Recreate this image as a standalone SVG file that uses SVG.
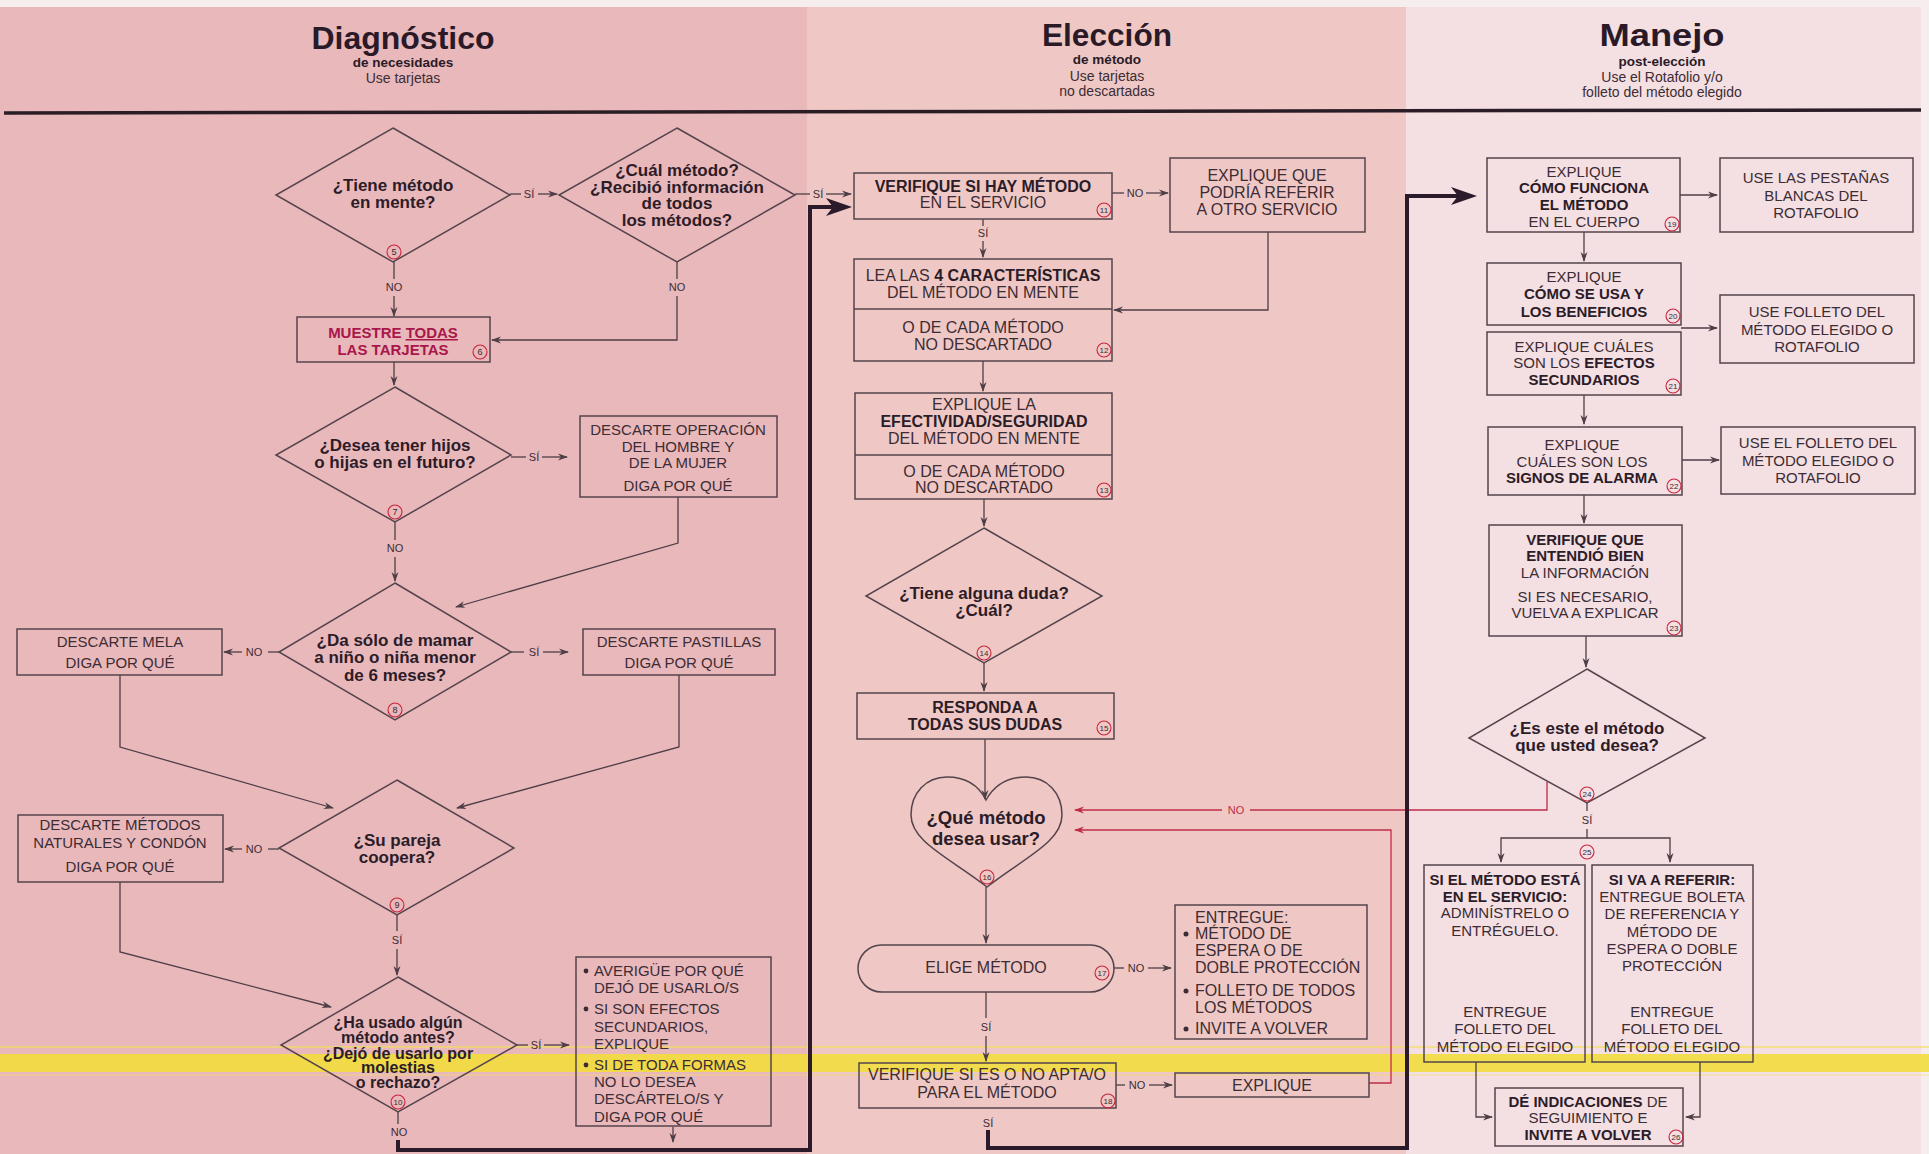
<svg xmlns="http://www.w3.org/2000/svg" width="1929" height="1154" viewBox="0 0 1929 1154">
<style>
  text { font-family: "Liberation Sans", Arial, sans-serif; fill: #3c2c34; }
  .ttl { font-size: 31px; font-weight: bold; fill: #2a1a27; text-anchor: middle; }
  .sub { font-size: 14px; text-anchor: middle; }
  .subb { font-size: 14px; font-weight: bold; fill: #2a1a27; text-anchor: middle; }
  .q { font-size: 17px; font-weight: bold; fill: #2c1c28; text-anchor: middle; }
  .q16 { font-size: 16px; font-weight: bold; fill: #2c1c28; text-anchor: middle; }
  .c15 { font-size: 15px; text-anchor: middle; }
  .c16 { font-size: 16px; text-anchor: middle; }
  .l16 { font-size: 16px; }
  .l15 { font-size: 15px; }
  .bd { font-weight: bold; fill: #2c1c28; }
  .red { font-size: 15px; font-weight: bold; fill: #a8164a; text-anchor: middle; }
  .lbl { font-size: 11px; text-anchor: middle; }
  .box { fill: none; stroke: #54444c; stroke-width: 1.5; }
  .ln { fill: none; stroke: #4e3e46; stroke-width: 1.3; }
  .rl { fill: none; stroke: #c02c48; stroke-width: 1.3; }
  .thick { fill: none; stroke: #2a1a2a; stroke-width: 4; }
  .num circle { fill: none; stroke: #c8243c; stroke-width: 1.1; }
  .num text { font-size: 9px; text-anchor: middle; fill: #3a2a30; }
  .dot { fill: #3c2c34; }
</style>
<defs>
  <marker id="ar" viewBox="0 0 10 8" refX="9" refY="4" markerWidth="10" markerHeight="8" markerUnits="userSpaceOnUse" orient="auto">
    <path d="M0,0.5 L10,4 L0,7.5 L3,4 Z" fill="#4e3e46"/>
  </marker>
  <marker id="arr" viewBox="0 0 10 8" refX="9" refY="4" markerWidth="10" markerHeight="8" markerUnits="userSpaceOnUse" orient="auto">
    <path d="M0,0.5 L10,4 L0,7.5 L3,4 Z" fill="#c02c48"/>
  </marker>
  <marker id="big" viewBox="0 0 26 18" refX="8" refY="9" markerWidth="26" markerHeight="18" markerUnits="userSpaceOnUse" orient="auto">
    <path d="M0,0 L26,9 L0,18 L7,9 Z" fill="#2a1a2a"/>
  </marker>
</defs>

<!-- column backgrounds -->
<g id="background">
  <rect x="0" y="0" width="807" height="1154" fill="#e9b8bb"/>
  <rect x="807" y="0" width="599" height="1154" fill="#efc8c5"/>
  <rect x="1406" y="0" width="523" height="1154" fill="#f4dfe3"/>
  <rect x="0" y="0" width="1929" height="7" fill="#f6eeee"/>
  <rect x="1921" y="0" width="8" height="1154" fill="#f6eeee"/>
  <!-- highlighter stripe -->
  <rect x="0" y="1054" width="1929" height="18" fill="#f2dd3e" opacity="0.9"/>
  <line x1="0" y1="1047" x2="1929" y2="1047" stroke="#f3e05a" stroke-width="1.5" opacity="0.8"/>
  <line x1="0" y1="1075" x2="1929" y2="1075" stroke="#f3e05a" stroke-width="1" opacity="0.6"/>
</g>

<!-- column headings -->
<g id="headers">
  <text class="ttl" x="403" y="49" textLength="183" lengthAdjust="spacingAndGlyphs">Diagnóstico</text>
  <text class="subb" x="403" y="67" style="font-size:13.5px">de necesidades</text>
  <text class="sub" x="403" y="83">Use tarjetas</text>
  <text class="ttl" x="1107" y="46" textLength="130" lengthAdjust="spacingAndGlyphs">Elección</text>
  <text class="subb" x="1107" y="64" style="font-size:13.5px">de método</text>
  <text class="sub" x="1107" y="81">Use tarjetas</text>
  <text class="sub" x="1107" y="96">no descartadas</text>
  <text class="ttl" x="1662" y="46" textLength="125" lengthAdjust="spacingAndGlyphs">Manejo</text>
  <text class="subb" x="1662" y="66" style="font-size:13.5px">post-elección</text>
  <text class="sub" x="1662" y="82">Use el Rotafolio y/o</text>
  <text class="sub" x="1662" y="97">folleto del método elegido</text>
  <line x1="4" y1="113" x2="1921" y2="110" stroke="#2b1d26" stroke-width="3.5"/>
</g>

<!-- connectors -->
<g id="connectors">
  <!-- 5 -> cual -->
  <path class="ln" d="M510,194 H521"/>
  <text class="lbl" x="529" y="198">SÍ</text>
  <path class="ln" d="M538,194 H557" marker-end="url(#ar)"/>
  <!-- 5 NO -> 6 -->
  <path class="ln" d="M394,262 V279"/>
  <text class="lbl" x="394" y="291">NO</text>
  <path class="ln" d="M394,296 V316" marker-end="url(#ar)"/>
  <!-- cual NO -> 6 -->
  <path class="ln" d="M677,262 V279"/>
  <text class="lbl" x="677" y="291">NO</text>
  <path class="ln" d="M677,296 V340 H492" marker-end="url(#ar)"/>
  <!-- cual SI -> 11 -->
  <path class="ln" d="M795,194 H810"/>
  <text class="lbl" x="818" y="198">SÍ</text>
  <path class="ln" d="M826,194 H851" marker-end="url(#ar)"/>
  <!-- 6 -> 7 -->
  <path class="ln" d="M394,362 V385" marker-end="url(#ar)"/>
  <!-- 7 SI -> descarte operacion -->
  <path class="ln" d="M511,457 H526"/>
  <text class="lbl" x="534" y="461">SÍ</text>
  <path class="ln" d="M542,457 H567" marker-end="url(#ar)"/>
  <path class="ln" d="M678,497 V543 L456,607" marker-end="url(#ar)"/>
  <!-- 7 NO -> 8 -->
  <path class="ln" d="M395,522 V540"/>
  <text class="lbl" x="395" y="552">NO</text>
  <path class="ln" d="M395,557 V581" marker-end="url(#ar)"/>
  <!-- 8 NO -> MELA -->
  <path class="ln" d="M279,652 H268"/>
  <text class="lbl" x="254" y="656">NO</text>
  <path class="ln" d="M242,652 H224" marker-end="url(#ar)"/>
  <!-- 8 SI -> pastillas -->
  <path class="ln" d="M511,652 H524"/>
  <text class="lbl" x="534" y="656">SÍ</text>
  <path class="ln" d="M543,652 H568" marker-end="url(#ar)"/>
  <path class="ln" d="M120,675 V747 L333,808" marker-end="url(#ar)"/>
  <path class="ln" d="M679,675 V747 L457,808" marker-end="url(#ar)"/>
  <!-- 9 NO -> naturales -->
  <path class="ln" d="M279,849 H268"/>
  <text class="lbl" x="254" y="853">NO</text>
  <path class="ln" d="M242,849 H225" marker-end="url(#ar)"/>
  <path class="ln" d="M120,882 V952 L331,1007" marker-end="url(#ar)"/>
  <!-- 9 SI -> 10 -->
  <path class="ln" d="M397,915 V931"/>
  <text class="lbl" x="397" y="944">SÍ</text>
  <path class="ln" d="M397,949 V975" marker-end="url(#ar)"/>
  <!-- 10 SI -> averigue -->
  <path class="ln" d="M517,1045 H528"/>
  <text class="lbl" x="536" y="1049">SÍ</text>
  <path class="ln" d="M544,1045 H569" marker-end="url(#ar)"/>
  <path class="ln" d="M673,1127 V1142" marker-end="url(#ar)"/>
  <!-- 10 NO -> 11 (main path) -->
  <path class="ln" d="M398,1112 V1124"/>
  <text class="lbl" x="399" y="1136">NO</text>
  <path class="thick" d="M398,1140 V1150 H810 V207 H834" marker-end="url(#big)"/>

  <!-- Elección -->
  <path class="ln" d="M1112,193 H1124"/>
  <text class="lbl" x="1135" y="197">NO</text>
  <path class="ln" d="M1146,193 H1168" marker-end="url(#ar)"/>
  <path class="ln" d="M1268,232 V310 H1114" marker-end="url(#ar)"/>
  <path class="ln" d="M983,219 V226"/>
  <text class="lbl" x="983" y="237">SÍ</text>
  <path class="ln" d="M983,241 V257" marker-end="url(#ar)"/>
  <path class="ln" d="M983,361 V391" marker-end="url(#ar)"/>
  <path class="ln" d="M984,499 V526" marker-end="url(#ar)"/>
  <path class="ln" d="M984,663 V691" marker-end="url(#ar)"/>
  <path class="ln" d="M985,739 V799" marker-end="url(#ar)"/>
  <path class="ln" d="M986,887 V943" marker-end="url(#ar)"/>
  <path class="ln" d="M1114,968 H1124"/>
  <text class="lbl" x="1136" y="972">NO</text>
  <path class="ln" d="M1148,968 H1171" marker-end="url(#ar)"/>
  <path class="ln" d="M986,992 V1018"/>
  <text class="lbl" x="986" y="1031">SÍ</text>
  <path class="ln" d="M986,1036 V1061" marker-end="url(#ar)"/>
  <path class="ln" d="M1116,1085 H1125"/>
  <text class="lbl" x="1137" y="1089">NO</text>
  <path class="ln" d="M1149,1085 H1172" marker-end="url(#ar)"/>
  <path class="rl" d="M1369,1083 H1391 V830 H1075" marker-end="url(#arr)"/>
  <path class="rl" d="M1547,782 V810 H1250"/>
  <text class="lbl" x="1236" y="814" style="fill:#c02c48">NO</text>
  <path class="rl" d="M1222,810 H1075" marker-end="url(#arr)"/>
  <text class="lbl" x="988" y="1127">SÍ</text>
  <path class="thick" d="M988,1130 V1148 H1407 V196 H1459" marker-end="url(#big)"/>

  <!-- Manejo -->
  <path class="ln" d="M1680,195 H1717" marker-end="url(#ar)"/>
  <path class="ln" d="M1584,232 V261" marker-end="url(#ar)"/>
  <path class="ln" d="M1681,328 H1717" marker-end="url(#ar)"/>
  <path class="ln" d="M1584,395 V424" marker-end="url(#ar)"/>
  <path class="ln" d="M1682,460 H1719" marker-end="url(#ar)"/>
  <path class="ln" d="M1584,495 V523" marker-end="url(#ar)"/>
  <path class="ln" d="M1586,636 V667" marker-end="url(#ar)"/>
  <path class="ln" d="M1587,803 V811"/>
  <text class="lbl" x="1587" y="824">SÍ</text>
  <path class="ln" d="M1587,829 V838"/>
  <path class="ln" d="M1587,838 H1501 V862" marker-end="url(#ar)"/>
  <path class="ln" d="M1587,838 H1670 V862" marker-end="url(#ar)"/>
  <path class="ln" d="M1476,1062 V1117 H1492" marker-end="url(#ar)"/>
  <path class="ln" d="M1700,1062 V1117 H1686" marker-end="url(#ar)"/>
</g>

<!-- Diagnóstico -->
<g id="n5">
  <polygon class="box" points="393,128 510,195 393,262 276,195"/>
  <text class="q" x="393" y="191">¿Tiene método</text>
  <text class="q" x="393" y="208">en mente?</text>
  <g class="num"><circle cx="394" cy="252" r="7"/><text x="394" y="255">5</text></g>
</g>
<g id="n-cual">
  <polygon class="box" points="677,128 795,195 677,262 559,195"/>
  <text class="q" x="677" y="176">¿Cuál método?</text>
  <text class="q" x="677" y="193">¿Recibió información</text>
  <text class="q" x="677" y="209">de todos</text>
  <text class="q" x="677" y="226">los métodos?</text>
</g>
<g id="n6">
  <rect class="box" x="297" y="317" width="193" height="45"/>
  <text class="red" x="393" y="338">MUESTRE <tspan style="text-decoration:underline">TODAS</tspan></text>
  <text class="red" x="393" y="355">LAS TARJETAS</text>
  <g class="num"><circle cx="480" cy="352" r="7"/><text x="480" y="355">6</text></g>
</g>
<g id="n7">
  <polygon class="box" points="395,387 511,455 395,522 276,455"/>
  <text class="q" x="395" y="451">¿Desea tener hijos</text>
  <text class="q" x="395" y="468">o hijas en el futuro?</text>
  <g class="num"><circle cx="395" cy="512" r="7"/><text x="395" y="515">7</text></g>
</g>
<g id="n-operacion">
  <rect class="box" x="580" y="416" width="197" height="81"/>
  <text class="c15" x="678" y="435">DESCARTE OPERACIÓN</text>
  <text class="c15" x="678" y="452">DEL HOMBRE Y</text>
  <text class="c15" x="678" y="468">DE LA MUJER</text>
  <text class="c15" x="678" y="491">DIGA POR QUÉ</text>
</g>
<g id="n8">
  <polygon class="box" points="395,583 511,652 395,720 279,652"/>
  <text class="q" x="395" y="646">¿Da sólo de mamar</text>
  <text class="q" x="395" y="663">a niño o niña menor</text>
  <text class="q" x="395" y="681">de 6 meses?</text>
  <g class="num"><circle cx="395" cy="710" r="7"/><text x="395" y="713">8</text></g>
</g>
<g id="n-mela">
  <rect class="box" x="17" y="629" width="205" height="46"/>
  <text class="c15" x="120" y="647">DESCARTE MELA</text>
  <text class="c15" x="120" y="668">DIGA POR QUÉ</text>
</g>
<g id="n-pastillas">
  <rect class="box" x="583" y="629" width="192" height="46"/>
  <text class="c15" x="679" y="647">DESCARTE PASTILLAS</text>
  <text class="c15" x="679" y="668">DIGA POR QUÉ</text>
</g>
<g id="n9">
  <polygon class="box" points="397,780 514,848 397,915 279,848"/>
  <text class="q" x="397" y="846">¿Su pareja</text>
  <text class="q" x="397" y="863">coopera?</text>
  <g class="num"><circle cx="397" cy="905" r="7"/><text x="397" y="908">9</text></g>
</g>
<g id="n-naturales">
  <rect class="box" x="18" y="815" width="205" height="67"/>
  <text class="c15" x="120" y="830">DESCARTE MÉTODOS</text>
  <text class="c15" x="120" y="848">NATURALES Y CONDÓN</text>
  <text class="c15" x="120" y="872">DIGA POR QUÉ</text>
</g>
<g id="n10">
  <polygon class="box" points="398,977 517,1045 398,1112 281,1045"/>
  <text class="q16" x="398" y="1028">¿Ha usado algún</text>
  <text class="q16" x="398" y="1043">método antes?</text>
  <text class="q16" x="398" y="1059">¿Dejó de usarlo por</text>
  <text class="q16" x="398" y="1073">molestias</text>
  <text class="q16" x="398" y="1088">o rechazo?</text>
  <g class="num"><circle cx="398" cy="1102" r="7"/><text x="398" y="1105" style="font-size:8px">10</text></g>
</g>
<g id="n-averigue">
  <rect class="box" x="576" y="957" width="195" height="169"/>
  <circle class="dot" cx="586" cy="971" r="2.4"/>
  <text class="l15" x="594" y="976">AVERIGÜE POR QUÉ</text>
  <text class="l15" x="594" y="993">DEJÓ DE USARLO/S</text>
  <circle class="dot" cx="586" cy="1009" r="2.4"/>
  <text class="l15" x="594" y="1014">SI SON EFECTOS</text>
  <text class="l15" x="594" y="1032">SECUNDARIOS,</text>
  <text class="l15" x="594" y="1049">EXPLIQUE</text>
  <circle class="dot" cx="586" cy="1065" r="2.4"/>
  <text class="l15" x="594" y="1070">SI DE TODA FORMAS</text>
  <text class="l15" x="594" y="1087">NO LO DESEA</text>
  <text class="l15" x="594" y="1104">DESCÁRTELO/S Y</text>
  <text class="l15" x="594" y="1122">DIGA POR QUÉ</text>
</g>

<!-- Elección -->
<g id="n11">
  <rect class="box" x="854" y="173" width="258" height="46"/>
  <text class="c16" x="983" y="192"><tspan class="bd">VERIFIQUE SI HAY MÉTODO</tspan></text>
  <text class="c16" x="983" y="208">EN EL SERVICIO</text>
  <g class="num"><circle cx="1104" cy="210" r="7"/><text x="1104" y="213" style="font-size:8px">11</text></g>
</g>
<g id="n-referir">
  <rect class="box" x="1170" y="158" width="195" height="74"/>
  <text class="c16" x="1267" y="181">EXPLIQUE QUE</text>
  <text class="c16" x="1267" y="198">PODRÍA REFERIR</text>
  <text class="c16" x="1267" y="215">A OTRO SERVICIO</text>
</g>
<g id="n12">
  <rect class="box" x="854" y="259" width="258" height="102"/>
  <line class="box" x1="854" y1="309" x2="1112" y2="309"/>
  <text class="c16" x="983" y="281">LEA LAS <tspan class="bd">4 CARACTERÍSTICAS</tspan></text>
  <text class="c16" x="983" y="298">DEL MÉTODO EN MENTE</text>
  <text class="c16" x="983" y="333">O DE CADA MÉTODO</text>
  <text class="c16" x="983" y="350">NO DESCARTADO</text>
  <g class="num"><circle cx="1104" cy="350" r="7"/><text x="1104" y="353" style="font-size:8px">12</text></g>
</g>
<g id="n13">
  <rect class="box" x="855" y="393" width="257" height="106"/>
  <line class="box" x1="855" y1="455" x2="1112" y2="455"/>
  <text class="c16" x="984" y="410">EXPLIQUE LA</text>
  <text class="c16" x="984" y="427"><tspan class="bd">EFECTIVIDAD/SEGURIDAD</tspan></text>
  <text class="c16" x="984" y="444">DEL MÉTODO EN MENTE</text>
  <text class="c16" x="984" y="477">O DE CADA MÉTODO</text>
  <text class="c16" x="984" y="493">NO DESCARTADO</text>
  <g class="num"><circle cx="1104" cy="490" r="7"/><text x="1104" y="493" style="font-size:8px">13</text></g>
</g>
<g id="n14">
  <polygon class="box" points="984,528 1102,596 984,663 866,596"/>
  <text class="q" x="984" y="599">¿Tiene alguna duda?</text>
  <text class="q" x="984" y="616">¿Cuál?</text>
  <g class="num"><circle cx="984" cy="653" r="7"/><text x="984" y="656" style="font-size:8px">14</text></g>
</g>
<g id="n15">
  <rect class="box" x="857" y="693" width="257" height="46"/>
  <text class="q16" x="985" y="713">RESPONDA A</text>
  <text class="q16" x="985" y="730">TODAS SUS DUDAS</text>
  <g class="num"><circle cx="1104" cy="728" r="7"/><text x="1104" y="731" style="font-size:8px">15</text></g>
</g>
<g id="n16">
  <path class="box" d="M986,800 C978,784 964,777 947,777 C926,777 911,793 911,815 C911,842 950,858 987,887 C1024,858 1062,842 1062,815 C1062,793 1047,777 1026,777 C1009,777 995,784 986,800 Z"/>
  <text class="q" x="986" y="824" style="font-size:18.5px">¿Qué método</text>
  <text class="q" x="986" y="845" style="font-size:18.5px">desea usar?</text>
  <g class="num"><circle cx="987" cy="877" r="7"/><text x="987" y="880" style="font-size:8px">16</text></g>
</g>
<g id="n17">
  <rect class="box" x="858" y="945" width="256" height="47" rx="23.5"/>
  <text class="c16" x="986" y="973">ELIGE MÉTODO</text>
  <g class="num"><circle cx="1102" cy="973" r="7"/><text x="1102" y="976" style="font-size:8px">17</text></g>
</g>
<g id="n-entregue">
  <rect class="box" x="1175" y="905" width="192" height="134"/>
  <text class="l16" x="1195" y="923">ENTREGUE:</text>
  <circle class="dot" cx="1186" cy="934" r="2.5"/>
  <text class="l16" x="1195" y="939">MÉTODO DE</text>
  <text class="l16" x="1195" y="956">ESPERA O DE</text>
  <text class="l16" x="1195" y="973">DOBLE PROTECCIÓN</text>
  <circle class="dot" cx="1186" cy="991" r="2.5"/>
  <text class="l16" x="1195" y="996">FOLLETO DE TODOS</text>
  <text class="l16" x="1195" y="1013">LOS MÉTODOS</text>
  <circle class="dot" cx="1186" cy="1029" r="2.5"/>
  <text class="l16" x="1195" y="1034">INVITE A VOLVER</text>
</g>
<g id="n18">
  <rect class="box" x="859" y="1063" width="257" height="45"/>
  <text class="c16" x="987" y="1080">VERIFIQUE SI ES O NO APTA/O</text>
  <text class="c16" x="987" y="1098">PARA EL MÉTODO</text>
  <g class="num"><circle cx="1108" cy="1101" r="7"/><text x="1108" y="1104" style="font-size:8px">18</text></g>
</g>
<g id="n-explique">
  <rect class="box" x="1175" y="1073" width="194" height="24"/>
  <text class="c16" x="1272" y="1091">EXPLIQUE</text>
</g>

<!-- Manejo -->
<g id="n19">
  <rect class="box" x="1487" y="158" width="193" height="74"/>
  <text class="c15" x="1584" y="177">EXPLIQUE</text>
  <text class="c15" x="1584" y="193"><tspan class="bd">CÓMO FUNCIONA</tspan></text>
  <text class="c15" x="1584" y="210"><tspan class="bd">EL MÉTODO</tspan></text>
  <text class="c15" x="1584" y="227">EN EL CUERPO</text>
  <g class="num"><circle cx="1672" cy="224" r="7"/><text x="1672" y="227" style="font-size:8px">19</text></g>
</g>
<g id="n-pestanas">
  <rect class="box" x="1720" y="158" width="193" height="74"/>
  <text class="c15" x="1816" y="183">USE LAS PESTAÑAS</text>
  <text class="c15" x="1816" y="201">BLANCAS DEL</text>
  <text class="c15" x="1816" y="218">ROTAFOLIO</text>
</g>
<g id="n20">
  <rect class="box" x="1487" y="263" width="194" height="62"/>
  <text class="c15" x="1584" y="282">EXPLIQUE</text>
  <text class="c15" x="1584" y="299"><tspan class="bd">CÓMO SE USA Y</tspan></text>
  <text class="c15" x="1584" y="317"><tspan class="bd">LOS BENEFICIOS</tspan></text>
  <g class="num"><circle cx="1673" cy="316" r="7"/><text x="1673" y="319" style="font-size:8px">20</text></g>
</g>
<g id="n21">
  <rect class="box" x="1487" y="332" width="194" height="63"/>
  <text class="c15" x="1584" y="352">EXPLIQUE CUÁLES</text>
  <text class="c15" x="1584" y="368">SON LOS <tspan class="bd">EFECTOS</tspan></text>
  <text class="c15" x="1584" y="385"><tspan class="bd">SECUNDARIOS</tspan></text>
  <g class="num"><circle cx="1673" cy="386" r="7"/><text x="1673" y="389" style="font-size:8px">21</text></g>
</g>
<g id="n-folleto">
  <rect class="box" x="1720" y="295" width="194" height="68"/>
  <text class="c15" x="1817" y="317">USE FOLLETO DEL</text>
  <text class="c15" x="1817" y="335">MÉTODO ELEGIDO O</text>
  <text class="c15" x="1817" y="352">ROTAFOLIO</text>
</g>
<g id="n22">
  <rect class="box" x="1488" y="427" width="194" height="68"/>
  <text class="c15" x="1582" y="450">EXPLIQUE</text>
  <text class="c15" x="1582" y="467">CUÁLES SON LOS</text>
  <text class="c15" x="1582" y="483"><tspan class="bd">SIGNOS DE ALARMA</tspan></text>
  <g class="num"><circle cx="1674" cy="486" r="7"/><text x="1674" y="489" style="font-size:8px">22</text></g>
</g>
<g id="n-elfolleto">
  <rect class="box" x="1721" y="427" width="194" height="67"/>
  <text class="c15" x="1818" y="448">USE EL FOLLETO DEL</text>
  <text class="c15" x="1818" y="466">MÉTODO ELEGIDO O</text>
  <text class="c15" x="1818" y="483">ROTAFOLIO</text>
</g>
<g id="n23">
  <rect class="box" x="1489" y="525" width="193" height="111"/>
  <text class="c15" x="1585" y="545"><tspan class="bd">VERIFIQUE QUE</tspan></text>
  <text class="c15" x="1585" y="561"><tspan class="bd">ENTENDIÓ BIEN</tspan></text>
  <text class="c15" x="1585" y="578">LA INFORMACIÓN</text>
  <text class="c15" x="1585" y="602">SI ES NECESARIO,</text>
  <text class="c15" x="1585" y="618">VUELVA A EXPLICAR</text>
  <g class="num"><circle cx="1674" cy="628" r="7"/><text x="1674" y="631" style="font-size:8px">23</text></g>
</g>
<g id="n24">
  <polygon class="box" points="1587,669 1705,738 1587,803 1469,738"/>
  <text class="q" x="1587" y="734">¿Es este el método</text>
  <text class="q" x="1587" y="751">que usted desea?</text>
  <g class="num"><circle cx="1587" cy="794" r="7"/><text x="1587" y="797" style="font-size:8px">24</text></g>
</g>
<g id="n25">
  <g class="num"><circle cx="1587" cy="852" r="7"/><text x="1587" y="855" style="font-size:8px">25</text></g>
</g>
<g id="n-servicio">
  <rect class="box" x="1424" y="865" width="161" height="197"/>
  <text class="c15" x="1505" y="885"><tspan class="bd">SI EL MÉTODO ESTÁ</tspan></text>
  <text class="c15" x="1505" y="902"><tspan class="bd">EN EL SERVICIO:</tspan></text>
  <text class="c15" x="1505" y="918">ADMINÍSTRELO O</text>
  <text class="c15" x="1505" y="936">ENTRÉGUELO.</text>
  <text class="c15" x="1505" y="1017">ENTREGUE</text>
  <text class="c15" x="1505" y="1034">FOLLETO DEL</text>
  <text class="c15" x="1505" y="1052">MÉTODO ELEGIDO</text>
</g>
<g id="n-refiere">
  <rect class="box" x="1592" y="865" width="161" height="197"/>
  <text class="c15" x="1672" y="885"><tspan class="bd">SI VA A REFERIR:</tspan></text>
  <text class="c15" x="1672" y="902">ENTREGUE BOLETA</text>
  <text class="c15" x="1672" y="919">DE REFERENCIA Y</text>
  <text class="c15" x="1672" y="937">MÉTODO DE</text>
  <text class="c15" x="1672" y="954">ESPERA O DOBLE</text>
  <text class="c15" x="1672" y="971">PROTECCIÓN</text>
  <text class="c15" x="1672" y="1017">ENTREGUE</text>
  <text class="c15" x="1672" y="1034">FOLLETO DEL</text>
  <text class="c15" x="1672" y="1052">MÉTODO ELEGIDO</text>
</g>
<g id="n26">
  <rect class="box" x="1495" y="1088" width="188" height="58"/>
  <text class="c15" x="1588" y="1107"><tspan class="bd">DÉ INDICACIONES</tspan> DE</text>
  <text class="c15" x="1588" y="1123">SEGUIMIENTO E</text>
  <text class="c15" x="1588" y="1140"><tspan class="bd">INVITE A VOLVER</tspan></text>
  <g class="num"><circle cx="1676" cy="1137" r="7"/><text x="1676" y="1140" style="font-size:8px">26</text></g>
</g>
</svg>
